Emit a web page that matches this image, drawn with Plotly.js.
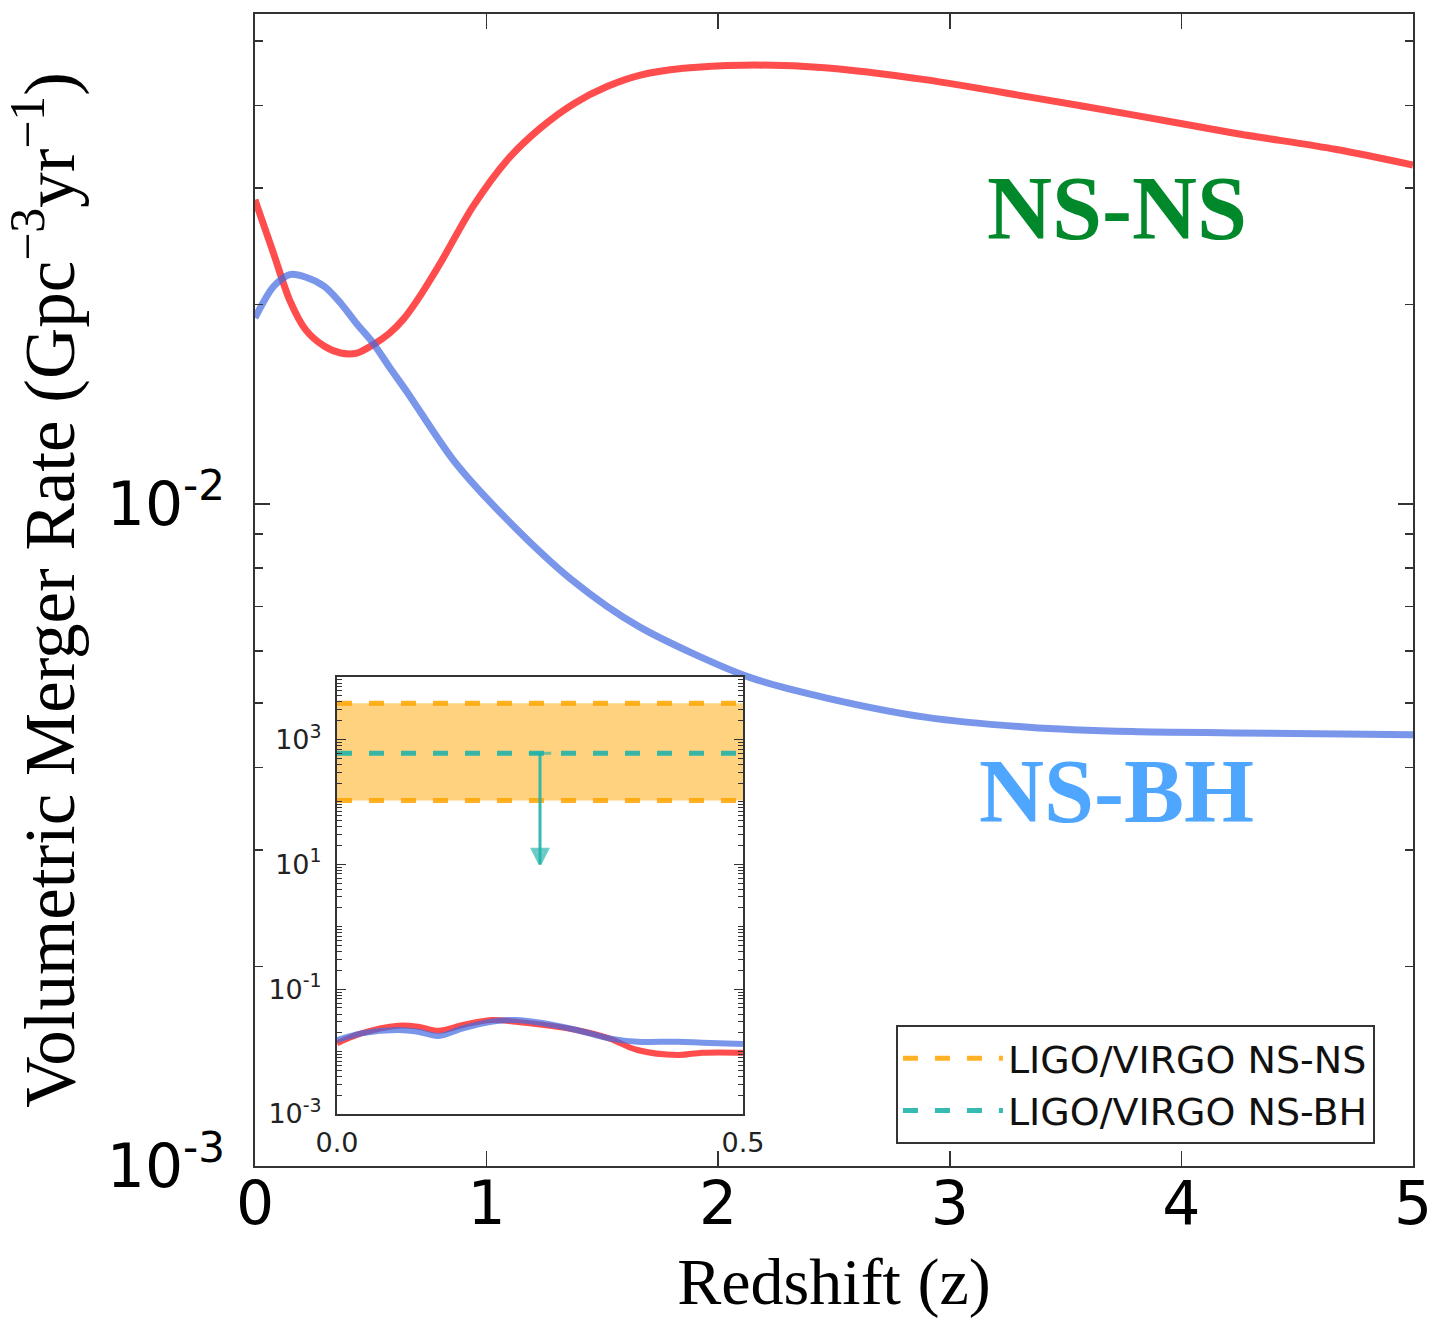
<!DOCTYPE html>
<html>
<head>
<meta charset="utf-8">
<script src="https://cdn.plot.ly/plotly-3.0.1.min.js"></script>
<style>html,body{margin:0;padding:0;background:#fff;}#chart{width:1432px;height:1319px;}</style>
</head>
<body>
<div id="chart"></div>
<script>
// ---- Main panel data (redshift vs volumetric merger rate) ----
const zNSNS = [0, 0.08, 0.15, 0.22, 0.30, 0.37, 0.44, 0.51, 0.58, 0.64, 0.70, 0.80, 0.94, 1.09, 1.23, 1.38, 1.52, 1.66, 1.85, 2.11, 2.46, 2.90, 3.34, 3.79, 4.23, 4.67, 5.0];
const rateNSNS = [0.0288, 0.0239, 0.0203, 0.0183, 0.0173, 0.0169, 0.0169, 0.0174, 0.0181, 0.0190, 0.0203, 0.0231, 0.0281, 0.0331, 0.0369, 0.0403, 0.0427, 0.0444, 0.0455, 0.0460, 0.0456, 0.0437, 0.0412, 0.0387, 0.0363, 0.0343, 0.0325];

const zNSBH = [0, 0.08, 0.15, 0.22, 0.30, 0.37, 0.44, 0.51, 0.58, 0.66, 0.86, 1.09, 1.37, 1.66, 2.13, 2.46, 2.90, 3.34, 3.79, 4.23, 5.0];
const rateNSBH = [0.0191, 0.0213, 0.0222, 0.0220, 0.0213, 0.0201, 0.0187, 0.0175, 0.0161, 0.0147, 0.0116, 0.00946, 0.00767, 0.00652, 0.00548, 0.00510, 0.00476, 0.00460, 0.00453, 0.00451, 0.00448];

// ---- Inset data (low redshift) ----
const zInset = [0, 0.03, 0.075, 0.10, 0.125, 0.155, 0.19, 0.22, 0.255, 0.295, 0.335, 0.37, 0.42, 0.45, 0.5];
const insetNSNS = [0.0136, 0.0196, 0.0260, 0.0251, 0.0216, 0.0267, 0.0321, 0.0301, 0.0267, 0.0222, 0.0163, 0.0106, 0.00883, 0.00962, 0.00962];
const insetNSBH = [0.0153, 0.0196, 0.0222, 0.0208, 0.0178, 0.0236, 0.0301, 0.0321, 0.0284, 0.0222, 0.0163, 0.0144, 0.0144, 0.0139, 0.0132];

// LIGO/VIRGO rates (Gpc^-3 yr^-1)
const ligoZ = [0, 0.5];
const ligoNSNSLow = 105;
const ligoNSNSHigh = 3800;
const ligoNSBHLimit = 600;
const arrowZ = 0.25;
const arrowTip = 10;

// tick labels
const mainYTickVals = [0.001, 0.01];
const mainYTickText = ['10<sup>-3</sup>', '10<sup>-2</sup>'];
const mainXTickVals = [0, 1, 2, 3, 4, 5];
const insetYTickVals = [1e-3, 1e-1, 1e1, 1e3];
const insetYTickText = ['10<sup>-3</sup>', '10<sup>-1</sup>', '10<sup>1</sup>', '10<sup>3</sup>'];
const insetXTickVals = [0, 0.5];
const insetXTickText = ['0.0', '0.5'];

const RED = 'rgba(255,0,0,0.7)';
const BLUE = 'rgba(65,105,225,0.7)';
const ORANGE = 'rgba(255,165,0,0.85)';
const TEAL = 'rgba(32,178,170,0.9)';
const AX = '#333333';

const mainMinor = [];
[0.001, 0.01].forEach(d => { for (let k = 2; k <= 9; k++) mainMinor.push(k * d); });
const insetMinor = [];
for (let e = -3; e <= 3; e++) { for (let k = 1; k <= 9; k++) { if (k === 1 && e % 2 !== 0) continue; insetMinor.push(k * Math.pow(10, e)); } }

const lineLen = v => ligoZ.map(() => v);

const traces = [
  // inset band fill
  {x: ligoZ, y: lineLen(ligoNSNSLow), xaxis: 'x2', yaxis: 'y2', mode: 'lines', line: {width: 0}, showlegend: false, hoverinfo: 'skip'},
  {x: ligoZ, y: lineLen(ligoNSNSHigh), xaxis: 'x2', yaxis: 'y2', mode: 'lines', line: {width: 0}, fill: 'tonexty', fillcolor: 'rgba(255,165,0,0.5)', showlegend: false, hoverinfo: 'skip'},
  // dashed LIGO lines
  {x: ligoZ, y: lineLen(ligoNSNSHigh), xaxis: 'x2', yaxis: 'y2', mode: 'lines', name: 'LIGO/VIRGO NS-NS', line: {color: ORANGE, width: 5, dash: '15px,17px'}},
  {x: ligoZ, y: lineLen(ligoNSNSLow), xaxis: 'x2', yaxis: 'y2', mode: 'lines', name: 'LIGO/VIRGO NS-NS low', showlegend: false, line: {color: ORANGE, width: 5, dash: '15px,17px'}},
  {x: ligoZ, y: lineLen(ligoNSBHLimit), xaxis: 'x2', yaxis: 'y2', mode: 'lines', name: 'LIGO/VIRGO NS-BH', line: {color: TEAL, width: 5, dash: '15px,17px'}},
  // upper-limit arrow
  {x: [arrowZ, arrowZ], y: [ligoNSBHLimit, arrowTip], xaxis: 'x2', yaxis: 'y2', mode: 'lines+markers', showlegend: false,
   line: {color: TEAL, width: 3}, marker: {symbol: ['line-ew', 'arrow-down'], size: [16, 15], color: TEAL, line: {color: TEAL, width: 3}}},
  // inset curves
  {x: zInset, y: insetNSNS, xaxis: 'x2', yaxis: 'y2', mode: 'lines', name: 'NS-NS (inset)', showlegend: false, line: {color: RED, width: 6, shape: 'spline'}},
  {x: zInset, y: insetNSBH, xaxis: 'x2', yaxis: 'y2', mode: 'lines', name: 'NS-BH (inset)', showlegend: false, line: {color: BLUE, width: 6, shape: 'spline'}},
  // main curves
  {x: zNSNS, y: rateNSNS, xaxis: 'x', yaxis: 'y', mode: 'lines', name: 'NS-NS', showlegend: false, line: {color: RED, width: 7, shape: 'spline', smoothing: 0.8}},
  {x: zNSBH, y: rateNSBH, xaxis: 'x', yaxis: 'y', mode: 'lines', name: 'NS-BH', showlegend: false, line: {color: BLUE, width: 7, shape: 'spline', smoothing: 0.8}}
];

const axCommon = {showline: true, linecolor: AX, linewidth: 2, mirror: 'allticks', ticks: 'inside', tickcolor: AX, showgrid: false, zeroline: false, ticklabeloverflow: 'allow'};

const layout = {
  width: 1432, height: 1319,
  margin: {l: 255, r: 19, t: 14, b: 153},
  paper_bgcolor: '#ffffff', plot_bgcolor: '#ffffff',
  showlegend: true,
  legend: {x: 0.5535, y: 0.1224, xanchor: 'left', yanchor: 'top', bgcolor: '#ffffff', bordercolor: AX, borderwidth: 2,
           traceorder: 'normal',
           font: {family: 'DejaVu Sans', size: 38, color: '#111'}, itemwidth: 100, tracegroupgap: 0},
  xaxis: Object.assign({}, axCommon, {
    domain: [0, 1], range: [0, 5], tickvals: mainXTickVals, ticklen: 15, tickwidth: 1.5,
    tickfont: {family: 'DejaVu Sans', size: 60, color: '#000'}, ticklabelstandoff: -16,
    title: {text: 'Redshift (z)', font: {family: 'Liberation Serif', size: 66, color: '#000'}, standoff: 40}
  }),
  yaxis: Object.assign({}, axCommon, {
    domain: [0, 1], type: 'log', range: [-3, -1.26], tickvals: mainYTickVals, ticktext: mainYTickText,
    ticklen: 15, tickwidth: 1.5, tickfont: {family: 'DejaVu Sans', size: 60, color: '#000'}, ticklabelstandoff: 16,
    minor: {ticks: 'inside', ticklen: 8, tickwidth: 1.5, tickcolor: AX, tickvals: mainMinor},
    title: {text: 'Volumetric Merger Rate (Gpc<sup>−3</sup>yr<sup>−1</sup>)', font: {family: 'Liberation Serif', size: 71, color: '#000'}, standoff: 10}
  }),
  xaxis2: Object.assign({}, axCommon, {
    anchor: 'y2', domain: [0.0708, 0.4214], range: [0, 0.5], tickvals: insetXTickVals, ticktext: insetXTickText,
    ticklen: 8, tickwidth: 1, tickfont: {family: 'DejaVu Sans', size: 27, color: '#222'}, ticklabelstandoff: 4
  }),
  yaxis2: Object.assign({}, axCommon, {
    anchor: 'x2', domain: [0.0451, 0.4245], type: 'log', range: [-3, 4], tickvals: insetYTickVals, ticktext: insetYTickText,
    ticklen: 9, tickwidth: 1, tickfont: {family: 'DejaVu Sans', size: 27, color: '#222'}, ticklabelstandoff: 8,
    minor: {ticks: 'inside', ticklen: 5, tickwidth: 1, tickcolor: AX, tickvals: insetMinor}
  }),
  shapes: [
    {type: 'rect', xref: 'x2 domain', yref: 'y2 domain', x0: 0, x1: 1, y0: 0, y1: 1, fillcolor: '#ffffff', line: {width: 0}, layer: 'below'}
  ],
  annotations: [
    {text: '<b>NS-NS</b>', xref: 'paper', yref: 'paper', x: 0.744, y: 0.831, xanchor: 'center', yanchor: 'middle', showarrow: false,
     font: {family: 'Liberation Serif', size: 90, color: '#00882b'}},
    {text: '<b>NS-BH</b>', xref: 'paper', yref: 'paper', x: 0.744, y: 0.3255, xanchor: 'center', yanchor: 'middle', showarrow: false,
     font: {family: 'Liberation Serif', size: 90, color: '#4fa6ff'}}
  ]
};

Plotly.newPlot('chart', traces, layout, {displayModeBar: false, staticPlot: true});
</script>
</body>
</html>
